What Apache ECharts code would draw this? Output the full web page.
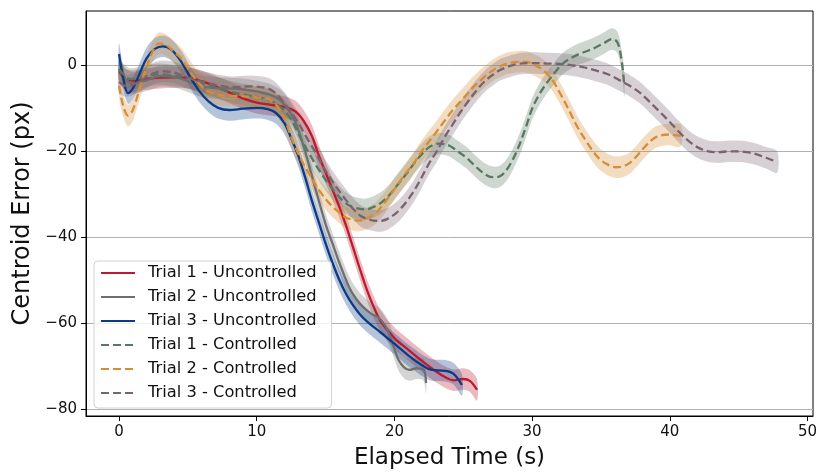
<!DOCTYPE html>
<html>
<head>
<meta charset="utf-8">
<script src="https://cdn.jsdelivr.net/npm/echarts@6/dist/echarts.min.js"></script>
<style>
html, body { margin: 0; padding: 0; background: #fff; }
#chart { width: 817px; height: 472px; }
</style>
</head>
<body>
<div id="chart"></div>
<script>
// series names
var names = ['Trial 1 - Uncontrolled', 'Trial 2 - Uncontrolled', 'Trial 3 - Uncontrolled',
             'Trial 1 - Controlled', 'Trial 2 - Controlled', 'Trial 3 - Controlled'];

// elapsed time (s) / centroid error (px)
var t1uX = [0, 0.5, 1, 2, 3, 4, 5, 6, 7, 8, 9, 10, 11, 12, 12.8, 13.4, 14, 14.5, 15, 15.5, 16, 16.5, 17, 17.5, 18, 18.5, 19, 20, 21, 22, 23, 23.7, 24.3, 25, 25.5, 26];
var t1uY = [-1.5, -3.5, -3.8, -3.3, -3, -2.9, -3, -3.8, -5, -6.4, -7.8, -8.8, -9.3, -9.8, -10.8, -13, -16.5, -21, -25, -29, -33, -37.5, -42.5, -47.5, -52.3, -56.3, -59.6, -63.5, -66.2, -68.8, -71.2, -72.6, -73.3, -73, -73.5, -75.5];

var t2uX = [0, 0.5, 1, 2, 3, 4, 5, 6, 7, 8, 9, 10, 11, 11.8, 12.4, 12.9, 13.5, 14.3, 15, 15.5, 16, 16.7, 17.2, 17.7, 18.3, 18.9, 19.3, 19.6, 20, 20.3, 20.7, 21.1, 21.6, 22.1, 22.3];
var t2uY = [-1, -3.5, -4.2, -3.6, -2.6, -2.8, -3.8, -5, -5.4, -5.5, -5.7, -6.2, -7, -8.5, -11, -14, -20, -29.2, -37, -41.5, -46, -51.6, -54.3, -56.2, -57.8, -58.9, -60.5, -62.4, -66, -68.6, -70.3, -70.9, -70.5, -70.8, -73.9];

var t3uX = [0, 0.3, 0.65, 1, 1.5, 2, 2.6, 3.2, 3.8, 4.5, 5.1, 5.8, 6.5, 7.2, 8, 9, 10, 10.8, 11.4, 12, 12.5, 13, 13.5, 14, 14.5, 15, 15.5, 16, 16.5, 17, 17.5, 18, 19, 20, 21, 22, 22.7, 23.7, 24.3, 24.9];
var t3uY = [2.5, -3, -6.6, -5.5, -2, 1.5, 3.7, 4.3, 3.5, 0.8, -2.5, -6, -8.5, -10, -10.5, -10.2, -10, -10.3, -11.2, -13.5, -17, -21, -26, -31.5, -36.5, -41.5, -46, -50, -53.3, -55.9, -58, -59.6, -62.2, -64.8, -67.5, -69.8, -70.9, -71.1, -71.8, -74.4];

var t1cX = [0, 0.4, 0.8, 1.5, 2.3, 3, 4, 5, 6, 7, 8, 9, 10.2, 11, 11.6, 12.1, 12.6, 13.1, 13.7, 14.3, 15, 15.75, 16.4, 17, 17.9, 18.5, 19.1, 19.7, 20.3, 21, 21.6, 22.5, 23.25, 24, 24.5, 25.2, 25.7, 26.4, 27.1, 27.6, 28.1, 28.6, 29.1, 29.6, 30, 30.5, 31, 31.6, 32.2, 32.8, 33.4, 34, 34.6, 35.2, 35.8, 36.2, 36.5, 36.7];
var t1cY = [-1, -2.5, -3.3, -3, -2.4, -2.2, -2.5, -3, -4.2, -5.3, -6.2, -6.9, -7.6, -8.3, -9.5, -11, -13.2, -16.5, -20, -23.3, -26.7, -29.8, -32, -33.1, -33.6, -33, -31.9, -30, -27.6, -24.8, -22.2, -19.2, -18.3, -18.8, -19.9, -21.5, -23, -25, -26.1, -26, -24.6, -22, -18.4, -14, -10.2, -7, -4.5, -2, 0.2, 1.5, 2.5, 3.2, 4, 5, 6, 5.2, 1, -5];

var t2cX = [0, 0.3, 0.65, 1, 1.5, 2, 2.5, 2.9, 3.4, 4, 4.5, 5, 5.5, 6, 6.6, 7.3, 8, 9, 10, 10.7, 11.4, 12, 12.6, 13.3, 13.8, 14.5, 15.3, 16, 16.5, 17.4, 18.4, 19, 19.6, 20.2, 20.8, 21.4, 22, 23, 23.6, 24.2, 25, 25.7, 26.4, 27.1, 27.7, 28.3, 29.5, 30.5, 31, 31.5, 32.1, 32.7, 33.3, 33.9, 34.4, 34.9, 35.5, 36.1, 36.6, 37.1, 37.6, 38.2, 39, 39.9, 40.8];
var t2cY = [-4.9, -9.5, -11.8, -10.5, -5.5, -0.5, 3.5, 5, 4.6, 3, 1.5, -0.8, -3, -5, -6.4, -7, -7.2, -7.3, -7.6, -7.8, -9.3, -12.5, -17.6, -22.5, -25.3, -29, -32.3, -34.3, -35.5, -36.2, -35, -33.2, -30.7, -28, -25.3, -22.9, -20, -15.8, -13.2, -10.7, -7.8, -5.3, -3.2, -1.4, -0.3, 0.4, 0.7, -0.6, -1.8, -3.7, -7, -10.7, -14.5, -17.6, -20, -21.9, -23.2, -23.8, -23.6, -22.8, -21.2, -19, -16.8, -16.2, -16.5];

var t3cX = [0, 0.5, 1, 1.7, 2.5, 3.2, 4.1, 5, 6.3, 7.2, 8.2, 9.5, 10.7, 11.3, 11.9, 12.5, 13.1, 13.6, 14.2, 15, 15.8, 16.5, 17.1, 17.7, 18.9, 19.5, 20.1, 20.7, 21.3, 21.8, 22.5, 23, 23.7, 24.2, 24.8, 25.4, 26, 26.6, 27.2, 27.8, 29, 30, 31, 32, 32.7, 33.6, 34.6, 35.5, 36.3, 37, 37.8, 38.5, 39.2, 40, 40.7, 41.4, 42.1, 42.8, 43.6, 44.3, 45, 45.6, 46.2, 47, 47.8];
var t3cY = [-4, -4.9, -4.6, -3.4, -2, -1.5, -1.9, -3, -4.1, -4.8, -5.2, -5, -5.4, -6.4, -8.5, -11, -13.9, -16.8, -20, -24.6, -28.5, -31.5, -33.8, -35.4, -36.3, -35.8, -34.5, -32.5, -29.9, -27.2, -23, -20.5, -16.5, -14, -11, -8.3, -5.8, -3.7, -2.2, -1, 0.2, 0.4, 0.3, 0.2, 0, -0.5, -1.3, -2.2, -3.5, -4.7, -6.4, -8.5, -10.7, -13.3, -15.7, -17.8, -19.3, -20.1, -20.3, -20.1, -20.1, -20.3, -20.7, -21.6, -22.6];

// half width of the shaded error band (px)
var errBand = 2.5;

var xTicks = [0, 10, 20, 30, 40, 50];
var yTicks = [-80, -60, -40, -20, 0];

var xs = [t1uX, t2uX, t3uX, t1cX, t2cX, t3cX];
var ys = [t1uY, t2uY, t3uY, t1cY, t2cY, t3cY];
var colors = ['#bb1a30', '#6f6f6f', '#0c3a85', '#5a7760', '#d48e38', '#7a636f'];
var dashed = [false, false, false, true, true, true];

var font = 'DejaVu Sans';

function bandSeries(xArr, yArr, color) {
    return {
        type: 'custom',
        silent: true,
        data: xArr.map(function (x, i) { return [x, yArr[i]]; }),
        renderItem: function (params, api) {
            if (params.dataIndex !== 0) return null;
            var up = xArr.map(function (x, i) { return api.coord([x, yArr[i] + errBand]); });
            var lo = xArr.map(function (x, i) { return api.coord([x, yArr[i] - errBand]); }).reverse();
            return {
                type: 'polygon',
                shape: { points: up.concat(lo), smooth: 0.3 },
                style: { fill: color, opacity: 0.3 }
            };
        }
    };
}

var series = [];
for (var k = 0; k < 6; k++) {
    series.push(bandSeries(xs[k], ys[k], colors[k]));
    series.push({
        name: names[k],
        type: 'line',
        smooth: 0.35,
        symbol: 'none',
        data: xs[k].map(function (x, i) { return [x, this[i]]; }, ys[k]),
        lineStyle: { color: colors[k], width: 2.3, type: dashed[k] ? [8, 4] : 'solid' },
        itemStyle: { color: colors[k] }
    });
}

var minus = function (v) { return v < 0 ? '\u2212' + Math.abs(v) : String(v); };

var chart = echarts.init(document.getElementById('chart'));
chart.setOption({
    animation: false,
    textStyle: { fontFamily: font },
    grid: { left: 86, right: 4, top: 11, bottom: 56, show: true, borderColor: '#000', borderWidth: 1,
            containLabel: false, outerBoundsMode: 'none' },
    legend: {
        data: names,
        orient: 'vertical',
        left: 94, top: 261,
        padding: [4, 15, 7, 6],
        itemWidth: 34, itemHeight: 16, itemGap: 8,
        itemStyle: { opacity: 0, borderWidth: 0 },
        backgroundColor: 'rgba(255,255,255,0.8)',
        borderColor: '#d0d0d0', borderWidth: 1, borderRadius: 4,
        textStyle: { fontFamily: font, fontSize: 16.3, color: '#111', padding: [0, 0, 0, 8] }
    },
    xAxis: {
        type: 'value', min: -2.4, max: 50.4,
        name: 'Elapsed Time (s)', nameLocation: 'middle', nameGap: 31,
        nameTextStyle: { fontFamily: font, fontSize: 23, color: '#111' },
        axisLine: { onZero: false, lineStyle: { color: '#000' } },
        axisTick: { customValues: xTicks, length: 5, lineStyle: { color: '#000' } },
        axisLabel: { customValues: xTicks, fontFamily: font, fontSize: 15, color: '#111', margin: 9 },
        splitLine: { show: false }
    },
    yAxis: {
        type: 'value', min: -81.6, max: 12.5,
        name: 'Centroid Error (px)', nameLocation: 'middle', nameGap: 50,
        nameTextStyle: { fontFamily: font, fontSize: 24, color: '#111' },
        axisLine: { show: true, onZero: false, lineStyle: { color: '#000' } },
        axisTick: { show: true, customValues: yTicks, length: 5, lineStyle: { color: '#000' } },
        axisLabel: { customValues: yTicks, fontFamily: font, fontSize: 15, color: '#111', margin: 9, formatter: minus },
        splitLine: { show: true, lineStyle: { color: '#b0b0b0', width: 1 } }
    },
    series: series
});
</script>
</body>
</html>
